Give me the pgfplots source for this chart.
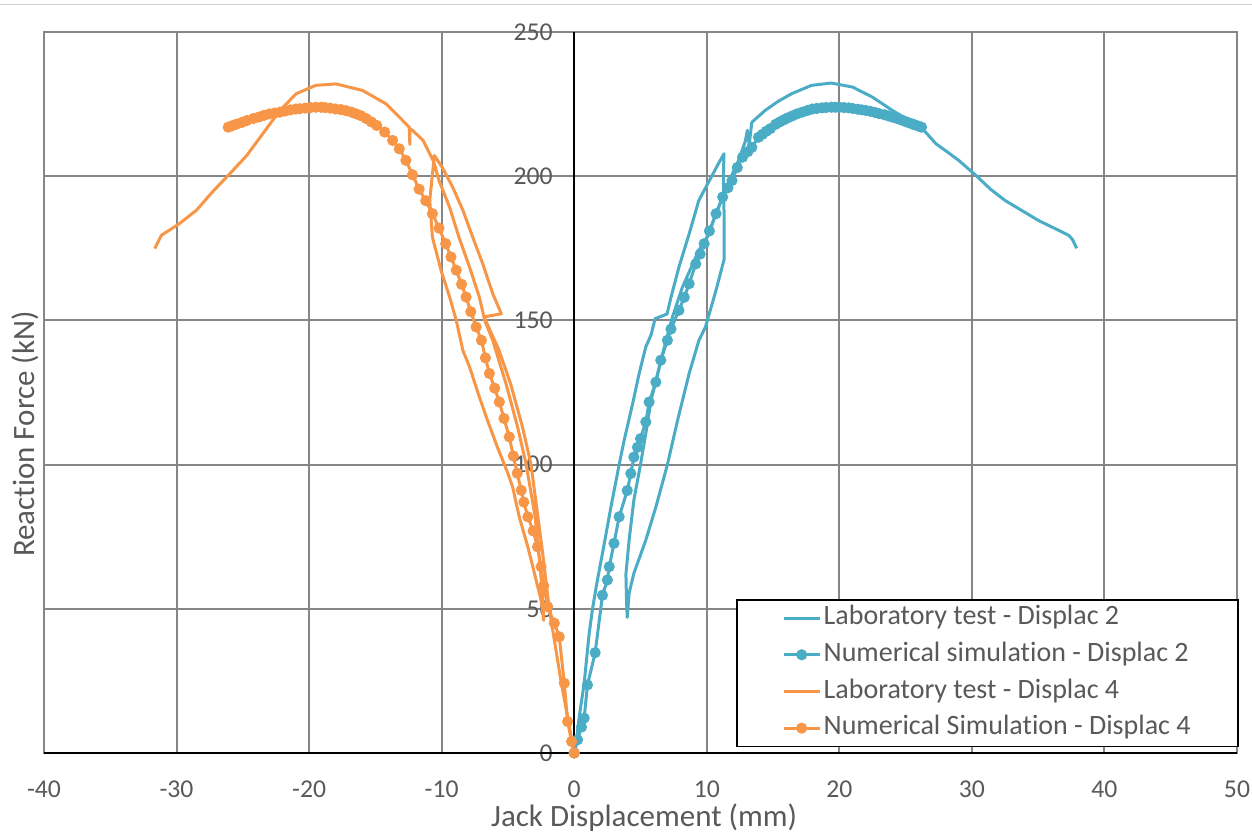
\documentclass[border=0pt]{standalone}
\usepackage{pgfplots}
\pgfplotsset{compat=1.18}
\usepackage{fontspec}
\setmainfont{Carlito}[Ligatures=NoCommon]
\definecolor{labblue}{RGB}{75,172,198}
\definecolor{laborange}{RGB}{247,150,70}
\definecolor{txtgray}{RGB}{89,89,89}
\definecolor{gridgray}{RGB}{134,134,134}
\begin{document}
\begin{tikzpicture}
\useasboundingbox (0,0) rectangle (751.2bp,501.6bp);
\draw[black!18, line width=0.6bp] (0,498.6bp) -- (751.2bp,498.6bp);
\begin{axis}[
    at={(26.4bp,49.8bp)}, anchor=south west,
    scale only axis, width=715.8bp, height=432.6bp,
    xmin=-40, xmax=50, ymin=0, ymax=250,
    xtick={-40,-30,...,50},
    xticklabels={-40,-30,-20,-10,0,10,20,30,40,50},
    ytick={0,50,...,250},
    yticklabels={0,50,100,150,200,250},
    major tick length=0pt,
    grid=major,
    grid style={gridgray, line width=1.2bp},
    axis line style={gridgray, line width=1.2bp},
    extra x ticks={0}, extra x tick labels={},
    extra y ticks={0}, extra y tick labels={},
    extra tick style={grid style={black, line width=1.3bp}},
    ticklabel style={font=\fontsize{15.4bp}{18bp}\selectfont, text=txtgray},
    xticklabel style={anchor=center, yshift=-22bp},
    yticklabel style={anchor=east, inner sep=0pt, xshift=305.4bp},
    xlabel={Jack Displacement (mm)},
    ylabel={Reaction Force (kN)},
    label style={font=\fontsize{18.6bp}{22bp}\selectfont, text=txtgray},
    xlabel style={at={(rel axis cs:0.503,-0.0895)}, anchor=center},
    ylabel style={at={(rel axis cs:-0.0159,0.4424)}, anchor=center},
    legend style={at={(rel axis cs:1.0017,0.0079)}, anchor=south east,
        draw=black, line width=1bp, fill=white,
        font=\fontsize{16.8bp}{20bp}\selectfont, text=txtgray,
        inner xsep=27bp, inner ysep=3bp, row sep=6bp,
        nodes={inner xsep=1.5bp, inner ysep=0pt, text height=12bp, text depth=4bp}},
    legend cell align=left,
    legend image code/.code={\draw[mark repeat=2, mark phase=2, #1]
        plot coordinates {(0bp,0bp) (10.8bp,0bp) (21.6bp,0bp)};},
]
% Laboratory test - Displac 2
\addplot[labblue, line width=1.8bp, line join=round] coordinates {
    (0,0) (0.13,3) (0.38,12.6) (0.75,24.2) (1.13,41.5) (1.38,50) (1.75,60)
    (2.13,69.2) (2.77,85.3) (3.39,100) (3.77,108.5) (4.4,121) (4.9,131.6)
    (5.4,140.8) (5.8,145) (6.1,150.6) (7.0,152.2) (7.3,158) (7.9,168.5)
    (8.67,180) (9.4,191.6) (10.2,198.5) (10.8,203.7) (11.3,207.8)
    (11.25,200) (11.3,188) (11.3,171) (10.7,160.5) (9.9,147.7) (9.4,143)
    (8.67,131.6) (7.8,115.4) (7.03,100) (6.16,85.3) (5.4,73.8) (4.5,62.3)
    (4.14,55.4) (4.0,47)
    (3.95,52) (3.9,62) (4.14,73.8) (4.5,87.7) (5.0,100) (5.4,110.8) (5.8,122.3)
    (6.3,131.6) (6.8,140.8) (7.4,151) (8.16,161.5) (9.4,174.3) (10.05,178.9)
    (10.7,187) (11.2,192.8) (11.7,198.5) (12.4,205.5) (12.9,212) (13.06,215.9)
    (13.2,211) (13.4,218.7) (14.4,222.8) (15.4,226) (16.4,228.6) (17.9,231.5)
    (19.4,232.3) (21.0,230.9) (22.5,227.4) (24,222.8) (25.5,218.7) (26.5,215.3)
    (27.3,211.2) (28.3,207.9) (29,205.5) (30.3,200.3) (31.4,195.5) (32.5,191.6)
    (33.8,188) (35,184.7) (36.2,182) (37.3,179.5) (37.6,178) (37.9,175)
};
\addlegendentry{Laboratory test - Displac 2}
% Numerical simulation - Displac 2
\addplot[labblue, line width=1.8bp, mark=*, mark size=2.4bp,
    mark options={solid, fill=labblue, draw=labblue}] coordinates {
    (0,0) (0.25,4.6) (0.55,9) (0.75,12.1) (1.0,23.6) (1.58,34.8) (2.13,54.7)
    (2.5,60) (2.64,64.6) (3.0,72.7) (3.39,81.9) (4.0,91) (4.27,96.9) (4.5,102.6)
    (4.77,106) (5.0,109) (5.4,114.8) (5.65,121.7) (6.16,128.6) (6.53,136.2)
    (7.03,143.1) (7.3,147) (7.9,153.5) (8.3,158) (8.67,162.7) (9.17,169.6)
    (9.5,173) (9.8,176.6) (10.2,181) (10.7,187) (11.2,192.8) (11.6,196)
    (11.9,198.5) (12.3,203) (12.7,206.6) (13.1,208.5) (13.4,210) (13.9,213.5)
    (14.2,214.5) (14.5,215.6) (14.8,216.5) (15.2,218) (15.5,218.8) (15.8,219.5)
    (16.1,220.2) (16.45,220.9) (16.8,221.6) (17.2,222.2) (17.6,222.8)
    (17.96,223.3) (18.3,223.5) (18.7,223.7) (19.0,223.8) (19.4,223.9)
    (19.7,223.9) (20,223.9) (20.35,223.8) (20.7,223.7) (21.0,223.5) (21.4,223.2)
    (21.7,223.0) (22,222.8) (22.35,222.5) (22.7,222.1) (23.0,221.7) (23.4,221.3)
    (23.7,220.9) (24,220.5) (24.3,220.1) (24.6,219.6) (24.9,219.1) (25.2,218.6)
    (25.5,218.1) (25.7,217.8) (26.0,217.3) (26.2,217)
};
\addlegendentry{Numerical simulation - Displac 2}
% Laboratory test - Displac 4
\addplot[laborange, line width=1.8bp, line join=round] coordinates {
    (0,0) (-0.4,10) (-1.0,25) (-1.6,42) (-1.9,50.7) (-2.4,70) (-2.8,84)
    (-3.26,100) (-3.9,113) (-4.8,128) (-5.7,140) (-6.3,146) (-6.8,151.2)
    (-5.5,152.3) (-6.15,159.3) (-6.9,169.6) (-7.66,178.9) (-8.4,188.2)
    (-9.17,196.2) (-9.9,202.6) (-10.55,207.2)
    (-10.9,191.6) (-10.7,178.9) (-10.05,167.4) (-9.4,158.1) (-8.9,150)
    (-8.4,139.6) (-7.9,133.9) (-7.16,123.5) (-6.5,114.8) (-5.8,106.1)
    (-5.0,96.9) (-4.65,92.3) (-4.15,81.9) (-3.5,71.5) (-3.0,62.3) (-2.5,53)
    (-2.3,46)
    (-2.4,55) (-2.6,66) (-2.95,82) (-3.64,100.4) (-4.27,113) (-5.15,128.1)
    (-6.15,143.1) (-6.75,150) (-7.16,158.1) (-7.9,168.5) (-8.7,178.9)
    (-9.4,189.2) (-10.2,198.5) (-10.6,205) (-11.4,212.4) (-12.2,215.9)
    (-12.4,216.5) (-12.4,211) (-12.45,217) (-13.2,220.5) (-14.2,225.1)
    (-15.95,229.7) (-17.96,232) (-19.5,231.5) (-20.97,228.6) (-22.2,222.8)
    (-23.5,214.7) (-24.7,207.2) (-26,200.8) (-27.3,194.5) (-28.5,188.2)
    (-29.8,183.5) (-31.15,179.5) (-31.65,174.9)
};
\addlegendentry{Laboratory test - Displac 4}
% Numerical Simulation - Displac 4
\addplot[laborange, line width=1.8bp, mark=*, mark size=2.4bp,
    mark options={solid, fill=laborange, draw=laborange}] coordinates {
    (0,0) (-0.2,4) (-0.5,10.9) (-0.75,24.2) (-1.13,40.3) (-1.5,45) (-2.0,50.7)
    (-2.3,58) (-2.5,64.6) (-2.77,71.5) (-3.1,77) (-3.5,81.9) (-3.8,87)
    (-4.0,91.1) (-4.3,97) (-4.6,103) (-4.9,109.6) (-5.3,116) (-5.65,121.7)
    (-6.0,126.5) (-6.4,131.6) (-6.7,137) (-7.0,143.1) (-7.4,147.7) (-7.8,153)
    (-8.16,158.1) (-8.5,162.5) (-8.9,167.4) (-9.3,172) (-9.7,176.6) (-10.2,182)
    (-10.7,187) (-11.2,191.5) (-11.7,195.5) (-12.2,200.5) (-12.7,205.5)
    (-13.2,209.5) (-13.7,212.4) (-14.3,215.3) (-14.9,217.6) (-15.3,218.8)
    (-15.7,220) (-16.1,221) (-16.45,221.6) (-16.8,222.2) (-17.2,222.7)
    (-17.6,223.1) (-18,223.3) (-18.4,223.6) (-18.8,223.8) (-19.1,223.9)
    (-19.5,223.9) (-19.9,223.8) (-20.3,223.6) (-20.7,223.4) (-21,223.3)
    (-21.4,223) (-21.8,222.6) (-22.2,222.2) (-22.6,221.9) (-23,221.6)
    (-23.4,221.1) (-23.8,220.5) (-24.2,220) (-24.7,219.3) (-25.1,218.6)
    (-25.5,218) (-25.8,217.5) (-26.1,217)
};
\addlegendentry{Numerical Simulation - Displac 4}
\end{axis}
\end{tikzpicture}
\end{document}
